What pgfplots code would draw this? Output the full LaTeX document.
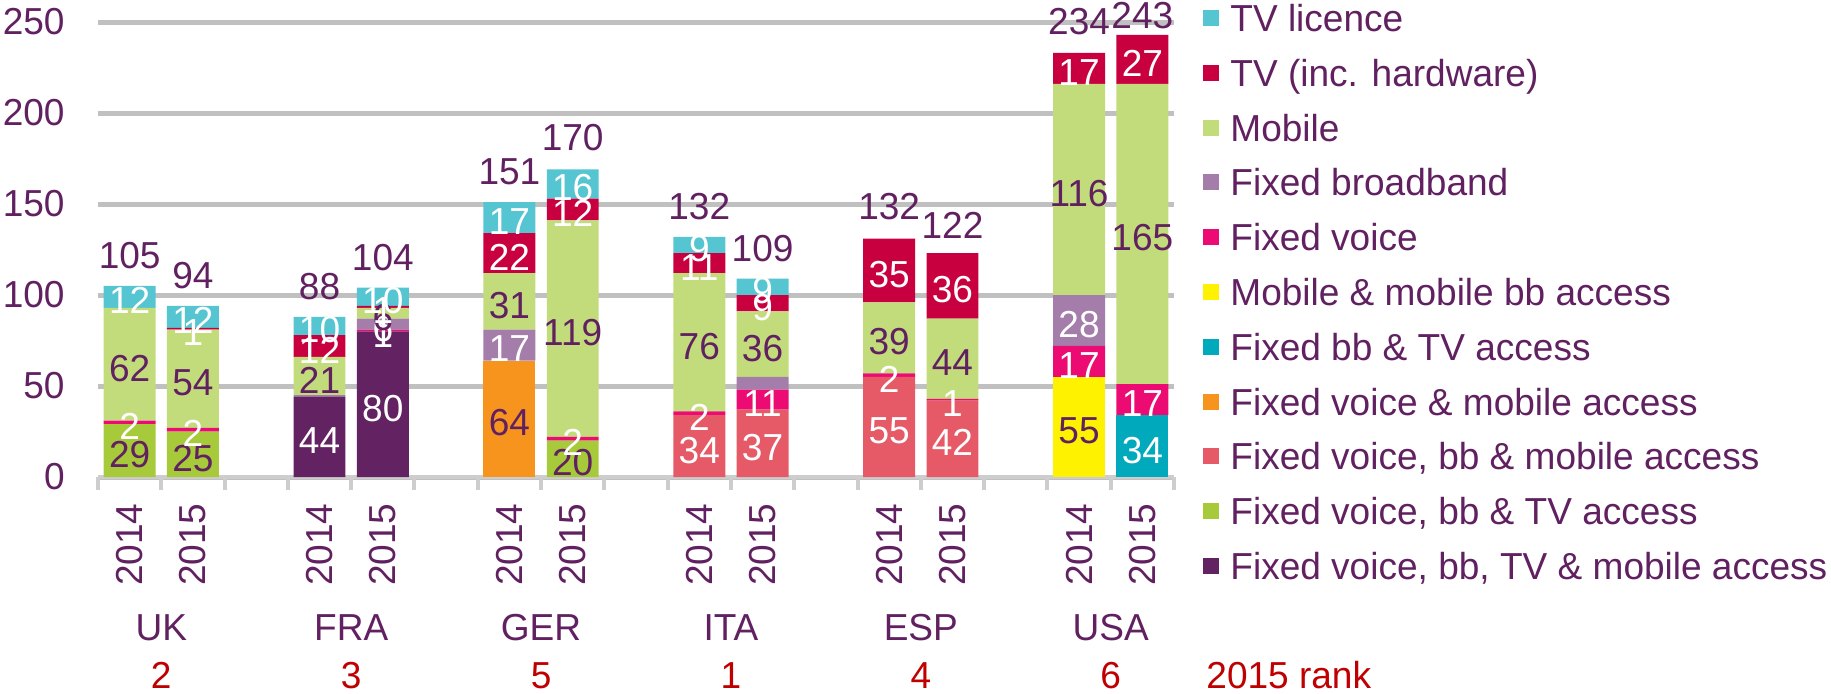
\documentclass[border=0pt]{standalone}
\usepackage{fontspec}
\setmainfont[FakeStretch=0.985]{Liberation Sans}
\usepackage{pgfplots}
\usepackage{pgfplotstable}
\pgfplotsset{compat=1.18}

\definecolor{txt}{HTML}{612161}
\definecolor{rankred}{HTML}{C00000}
\definecolor{gridgray}{HTML}{C0C0C0}
\definecolor{axisgray}{HTML}{CDCDCD}
\definecolor{cA}{HTML}{632262}% Fixed voice, bb, TV & mobile access
\definecolor{cB}{HTML}{A6CA3A}% Fixed voice, bb & TV access
\definecolor{cC}{HTML}{E65A68}% Fixed voice, bb & mobile access
\definecolor{cD}{HTML}{F7941E}% Fixed voice & mobile access
\definecolor{cE}{HTML}{00A9BC}% Fixed bb & TV access
\definecolor{cF}{HTML}{FFF200}% Mobile & mobile bb access
\definecolor{cG}{HTML}{EC0B72}% Fixed voice
\definecolor{cH}{HTML}{A57DAB}% Fixed broadband
\definecolor{cI}{HTML}{C3DC7B}% Mobile
\definecolor{cJ}{HTML}{C9003F}% TV (inc. hardware)
\definecolor{cK}{HTML}{56C5D2}% TV licence

\newcommand\f{\fontsize{18.8}{24}\selectfont}

% 2014/2015 pairs per country, one column per component
\pgfplotstableread{
x  s1 s2 s3 s4 s5 s6 s7 s8 s9  s10 s11
0  0  29 0  0  0  0  2  0  62  0   12
1  0  25 0  0  0  0  2  0  54  1   12
3  44 0  0  0  0  0  0  1  21  12  10
4  80 0  0  0  0  0  1  6  6   1   10
6  0  0  0  64 0  0  0  17 31  22  17
7  0  20 0  0  0  0  2  0  119 12  16
9  0  0  34 0  0  0  2  0  76  11  9
10 0  0  37 0  0  0  11 7  36  9   9
12 0  0  55 0  0  0  2  0  39  35  0
13 0  0  42 0  0  0  1  0  44  36  0
15 0  0  0  0  0  55 17 28 116 17  0
16 0  0  0  0  34 0  17 0  165 27  0
}\spend

% running tops, for the labels in the middle of each piece
\pgfplotstablecreatecol[create col/expr={\thisrow{s1}}]{c1}\spend
\pgfplotstablecreatecol[create col/expr={\thisrow{c1}+\thisrow{s2}}]{c2}\spend
\pgfplotstablecreatecol[create col/expr={\thisrow{c2}+\thisrow{s3}}]{c3}\spend
\pgfplotstablecreatecol[create col/expr={\thisrow{c3}+\thisrow{s4}}]{c4}\spend
\pgfplotstablecreatecol[create col/expr={\thisrow{c4}+\thisrow{s5}}]{c5}\spend
\pgfplotstablecreatecol[create col/expr={\thisrow{c5}+\thisrow{s6}}]{c6}\spend
\pgfplotstablecreatecol[create col/expr={\thisrow{c6}+\thisrow{s7}}]{c7}\spend
\pgfplotstablecreatecol[create col/expr={\thisrow{c7}+\thisrow{s8}}]{c8}\spend
\pgfplotstablecreatecol[create col/expr={\thisrow{c8}+\thisrow{s9}}]{c9}\spend
\pgfplotstablecreatecol[create col/expr={\thisrow{c9}+\thisrow{s10}}]{c10}\spend
\pgfplotstablecreatecol[create col/expr={\thisrow{c10}+\thisrow{s11}}]{c11}\spend

\pgfplotsset{
  frame/.style={at={(0,0)}, anchor=south west, scale only axis,
    width=538pt, height=227.5pt,
    xmin=-0.5, xmax=16.5, ymin=0, ymax=250,
    /pgf/number format/assume math mode=true},
  lab/.style={draw=none, mark=none, nodes near coords, point meta=explicit,
    nodes near coords style={font=\f, anchor=center, inner sep=0pt,
      yshift=-2pt, text=#1}},
}

\begin{document}
\begin{tikzpicture}
\useasboundingbox (-49pt,-108pt) rectangle (866.5pt,238.5pt);

\begin{axis}[frame,
  ybar stacked, bar width=0.82,
  every axis plot/.append style={draw=none},
  ytick={0,50,...,250},
  ymajorgrids, grid style={gridgray, line width=2.5pt},
  axis x line*=bottom, axis y line*=left,
  x axis line style={axisgray, line width=2pt},
  y axis line style={draw=none},
  ytick style={draw=none},
  xtick={0,1,3,4,6,7,9,10,12,13,15,16},
  xticklabels={2014,2015,2014,2015,2014,2015,2014,2015,2014,2015,2014,2015},
  minor xtick={-0.5,0.5,...,16.5},
  tick align=outside,
  major tick length=0pt, minor tick length=6.5pt,
  every minor tick/.append style={axisgray, line width=2pt},
  tick label style={font=\f, text=txt},
  xticklabel style={rotate=90, anchor=east, inner sep=0pt},
  xticklabel shift=13pt,
  yticklabel style={inner sep=0pt},
  yticklabel shift=16.5pt,
  reverse legend,
  legend cell align=left,
  legend image code/.code={\fill[#1] (0pt,-4pt) rectangle (8pt,4pt);},
  legend style={at={(1,1)}, anchor=north west, xshift=14.5pt, yshift=9pt,
    draw=none, fill=none, inner sep=0pt, font=\f, text=txt, row sep=13.9pt,
    nodes={inner sep=0pt, text height=13.5pt, text depth=0pt},
    /tikz/every odd column/.append style={column sep=5.5pt}},
]
\addplot[fill=cA] table[x=x,y=s1]{\spend};
\addlegendentry{Fixed voice, bb, TV \& mobile access}
\addplot[fill=cB] table[x=x,y=s2]{\spend};
\addlegendentry{Fixed voice, bb \& TV access}
\addplot[fill=cC] table[x=x,y=s3]{\spend};
\addlegendentry{Fixed voice, bb \& mobile access}
\addplot[fill=cD] table[x=x,y=s4]{\spend};
\addlegendentry{Fixed voice \& mobile access}
\addplot[fill=cE] table[x=x,y=s5]{\spend};
\addlegendentry{Fixed bb \& TV access}
\addplot[fill=cF] table[x=x,y=s6]{\spend};
\addlegendentry{Mobile \& mobile bb access}
\addplot[fill=cG] table[x=x,y=s7]{\spend};
\addlegendentry{Fixed voice}
\addplot[fill=cH] table[x=x,y=s8]{\spend};
\addlegendentry{Fixed broadband}
\addplot[fill=cI] table[x=x,y=s9]{\spend};
\addlegendentry{Mobile}
\addplot[fill=cJ] table[x=x,y=s10]{\spend};
\addlegendentry{TV (inc. hardware)}
\addplot[fill=cK] table[x=x,y=s11]{\spend};
\addlegendentry{TV licence}
\end{axis}

\begin{axis}[frame, clip=false,
  axis line style={draw=none}, tick style={draw=none},
  ytick=\empty,
  xtick={0.5,3.5,6.5,9.5,12.5,15.5},
  xticklabels={{UK\\\textcolor{rankred}{2}},{FRA\\\textcolor{rankred}{3}},
    {GER\\\textcolor{rankred}{5}},{ITA\\\textcolor{rankred}{1}},
    {ESP\\\textcolor{rankred}{4}},{USA\\\textcolor{rankred}{6}}},
  xticklabel style={font=\f, text=txt, align=center, anchor=north, inner sep=0pt},
  xticklabel shift=68.5pt,
]
\addplot[lab=white] table[x=x, y expr={\thisrow{s1}==0 ? nan : \thisrow{c1}-0.5*\thisrow{s1}}, meta=s1]{\spend};
\addplot[lab=txt] table[x=x, y expr={\thisrow{s2}==0 ? nan : \thisrow{c2}-0.5*\thisrow{s2}}, meta=s2]{\spend};
\addplot[lab=white] table[x=x, y expr={\thisrow{s3}==0 ? nan : \thisrow{c3}-0.5*\thisrow{s3}}, meta=s3]{\spend};
\addplot[lab=txt] table[x=x, y expr={\thisrow{s4}==0 ? nan : \thisrow{c4}-0.5*\thisrow{s4}}, meta=s4]{\spend};
\addplot[lab=white] table[x=x, y expr={\thisrow{s5}==0 ? nan : \thisrow{c5}-0.5*\thisrow{s5}}, meta=s5]{\spend};
\addplot[lab=txt] table[x=x, y expr={\thisrow{s6}==0 ? nan : \thisrow{c6}-0.5*\thisrow{s6}}, meta=s6]{\spend};
\addplot[lab=white] table[x=x, y expr={\thisrow{s7}==0 ? nan : \thisrow{c7}-0.5*\thisrow{s7}}, meta=s7]{\spend};
% FRA 2014 and ITA 2015 broadband carry no label in the original
\addplot[lab=white] table[x=x, y expr={(\thisrow{s8}==0 || \thisrow{x}==3 || \thisrow{x}==10) ? nan : \thisrow{c8}-0.5*\thisrow{s8}}, meta=s8]{\spend};
\addplot[lab=txt] table[x=x, y expr={\thisrow{s9}==0 ? nan : \thisrow{c9}-0.5*\thisrow{s9}}, meta=s9]{\spend};
\addplot[lab=white] table[x=x, y expr={\thisrow{s10}==0 ? nan : \thisrow{c10}-0.5*\thisrow{s10}}, meta=s10]{\spend};
\addplot[lab=white] table[x=x, y expr={\thisrow{s11}==0 ? nan : \thisrow{c11}-0.5*\thisrow{s11}}, meta=s11]{\spend};

% totals above the bars (USA 2015 pulled down to stay in frame, as in the original)
\addplot[draw=none, mark=none, nodes near coords, point meta=explicit,
  nodes near coords style={font=\f, text=txt, anchor=center, inner sep=0pt, yshift=15pt}]
  coordinates {(0,105)[105] (1,94)[94] (3,88)[88] (4,104)[104] (6,151)[151] (7,170)[170]
    (9,132)[132] (10,109)[109] (12,132)[132] (13,122)[122] (15,234)[234] (16,237)[243]};

\node[font=\f, text=rankred, anchor=west, inner sep=0pt] at (rel axis cs:1,0)
  [xshift=16pt, yshift=-99pt] {2015 rank};
\end{axis}
\end{tikzpicture}
\end{document}
